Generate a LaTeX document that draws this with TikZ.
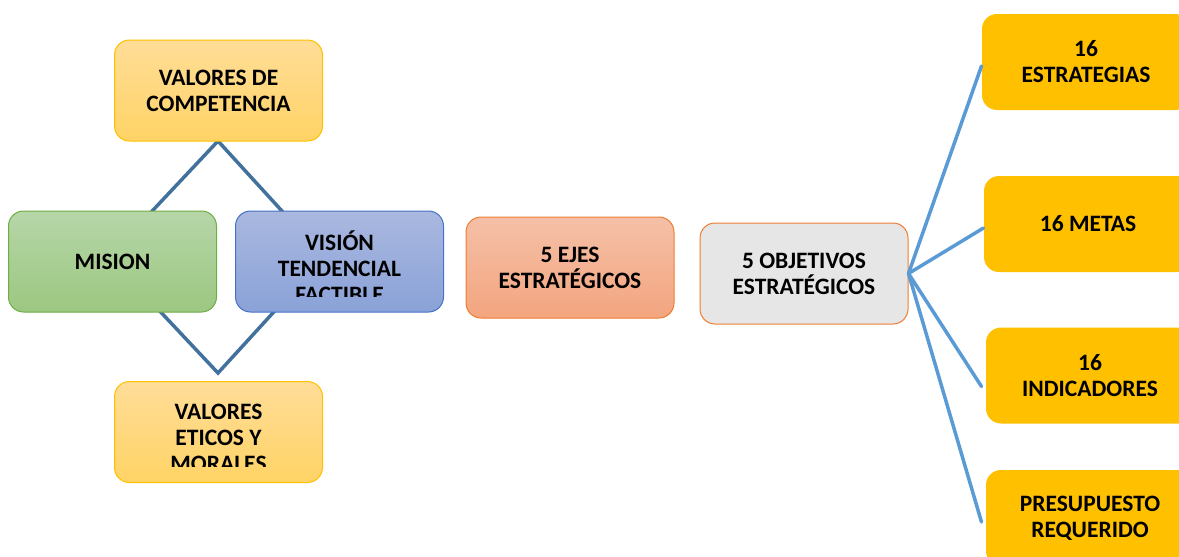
\documentclass[tikz,border=0pt]{standalone}
\usepackage{fontspec}
\setmainfont{Carlito}
\definecolor{goldY}{HTML}{FFC000}
\definecolor{valTop}{HTML}{FFDD98}
\definecolor{valBot}{HTML}{FFD365}
\definecolor{misTop}{HTML}{B6D6A8}
\definecolor{misBot}{HTML}{9CC781}
\definecolor{misLine}{HTML}{70AD47}
\definecolor{visTop}{HTML}{AAB8DF}
\definecolor{visBot}{HTML}{8AA2D8}
\definecolor{visLine}{HTML}{4472C4}
\definecolor{ejeTop}{HTML}{F5C0A7}
\definecolor{ejeBot}{HTML}{F3A57F}
\definecolor{orLine}{HTML}{ED7D31}
\definecolor{objFill}{HTML}{E7E6E6}
\definecolor{diaLine}{HTML}{41719C}
\definecolor{conLine}{HTML}{5B9BD5}
\begin{document}
\begin{tikzpicture}[x=1pt,y=-1pt,
  box/.style={rounded corners=15pt, minimum width=208pt, minimum height=101pt,
    inner sep=0pt, align=center, line width=1pt,
    font=\fontsize{23.5}{26}\selectfont\bfseries},
  valbox/.style={box, draw=goldY, top color=valTop, bottom color=valBot},
  misbox/.style={box, draw=misLine, top color=misTop, bottom color=misBot},
  visbox/.style={box, draw=visLine, top color=visTop, bottom color=visBot},
  ejebox/.style={box, draw=orLine, top color=ejeTop, bottom color=ejeBot},
  objbox/.style={box, draw=orLine, fill=objFill},
  goldbox/.style={box, fill=goldY, minimum height=96pt},
  txt/.style={inner sep=0pt, align=center, font=\fontsize{23.5}{26}\selectfont\bfseries},
  dia/.style={draw=diaLine, line width=3.5pt, line join=miter},
  con/.style={draw=conLine, line width=3.5pt, line cap=round}
]
\useasboundingbox (0,0) rectangle (1179,557);
\begin{scope}
\clip (0,0) rectangle (1179,557);

% diamond behind the boxes
\coordinate (dtop) at (218,141);
\coordinate (dleft) at (109,257);
\coordinate (dbot) at (218,373);
\coordinate (dright) at (324,257);
\draw[dia] (dtop) -- (dleft) -- (dbot) -- (dright) -- cycle;

\node[valbox] (comp) at (218.5,90.5) {VALORES DE\\COMPETENCIA};
\node[misbox] (mision) at (112.5,261.5) {MISION};
\node[visbox] (vision) at (339.5,261.5) {};
\begin{scope}
\clip (236,212) rectangle (443,296);
\node[txt] (visiontxt) at (339.5,267) {VISIÓN\\TENDENCIAL\\FACTIBLE};
\end{scope}
\node[valbox] (etic) at (218.5,432) {};
\begin{scope}
\clip (115,382) rectangle (322,466);
\node[txt] (etictxt) at (218.5,438) {VALORES\\ETICOS Y\\MORALES};
\end{scope}

\node[ejebox] (ejes) at (570,267.5) {5 EJES\\ESTRATÉGICOS};
\node[objbox] (obj) at (804,273.5) {5 OBJETIVOS\\ESTRATÉGICOS};

\node[goldbox] (estr) at (1086,62) {16\\ESTRATEGIAS};
\node[goldbox] (metas) at (1088,224) {16 METAS};
\node[goldbox] (indic) at (1090,375.5) {16\\INDICADORES};
\node[goldbox] (presu) at (1090,518) {PRESUPUESTO\\REQUERIDO};

\draw[con] (obj.east) -- ([yshift=-4pt]estr.west);
\draw[con] (obj.east) -- ([yshift=-4pt]metas.west);
\draw[con] (obj.east) -- ([xshift=-4pt,yshift=-11pt]indic.west);
\draw[con] (obj.east) -- ([xshift=-4pt,yshift=-4pt]presu.west);
\end{scope}
\end{tikzpicture}
\end{document}
